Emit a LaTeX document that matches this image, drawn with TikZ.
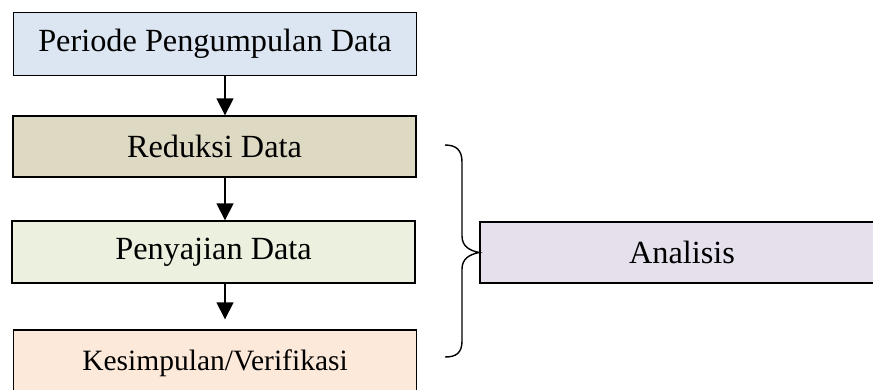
\documentclass[tikz,border=0pt]{standalone}
\usepackage{fontspec}
\setmainfont{Liberation Serif}
\usetikzlibrary{arrows.meta}
\definecolor{cblue}{HTML}{DCE6F2}
\definecolor{ctan}{HTML}{DDD9C3}
\definecolor{cgreen}{HTML}{EBF1DE}
\definecolor{corange}{HTML}{FDE9D9}
\definecolor{cpurple}{HTML}{E5E0EC}
\tikzset{
  box/.style={draw=black, line width=1.4pt, minimum width=403pt, inner sep=0pt, font=\fontsize{32.3}{37}\selectfont},
  arr/.style={line width=1.6pt, -{Triangle[width=17pt,length=17pt]}},
  brace/.style={line width=1.4pt}
}
\begin{document}
\begin{tikzpicture}[x=1pt,y=-1pt]
\useasboundingbox (0,0) rectangle (873,389);
\clip (0,0) rectangle (873,389);
\node[box, fill=cblue, minimum height=63pt] (b1) at (215,44) {Periode Pengumpulan Data};
\node[box, fill=ctan, minimum height=61pt] (b2) at (214.5,146.5) {Reduksi Data};
\node[box, fill=cgreen, minimum height=62pt] (b3) at (213.5,252) {Penyajian Data};
\node[box, fill=corange, minimum height=66pt, font=\fontsize{29.5}{34}\selectfont] (b4) at (215,363) {Kesimpulan/Verifikasi};
\node[box, fill=cpurple, minimum height=61pt, minimum width=404pt] (an) at (682,252.5) {Analisis};
\coordinate (ax) at (225,0);
\draw[arr] (b1.south -| ax) -- (b2.north -| ax);
\draw[arr] (b2.south -| ax) -- (b3.north -| ax);
\draw[arr, shorten >=10pt] (b3.south -| ax) -- (b4.north -| ax);
\coordinate (bt) at (445,145);
\coordinate (bb) at (445,357);
\draw[brace] (bt) .. controls (456,145) and (462,150) .. (462,162) -- (462,236)
  .. controls (462,246) and (469,250.5) .. (an.west)
  .. controls (469,254.5) and (462,259) .. (462,269) -- (462,341)
  .. controls (462,353) and (456,357) .. (bb);
\end{tikzpicture}
\end{document}
